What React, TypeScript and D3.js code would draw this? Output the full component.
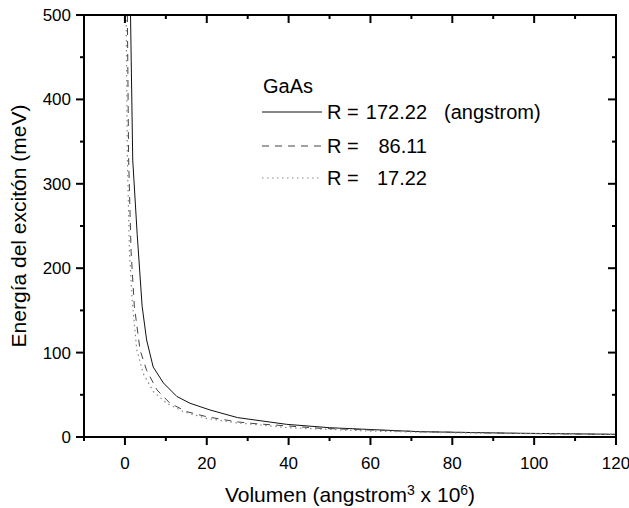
import React from "react";
import * as d3 from "d3";

const solidV = [1.37, 1.91, 3.0, 4.2, 5.3, 6.9, 9.4, 12.7, 15.9, 20.8, 27.5, 39.5, 50, 72, 95, 120];
const solidE = [500, 328, 240, 155, 115, 83, 64, 48, 40, 32, 23, 15, 11, 6.3, 4.5, 3.2];
const dashedV = [0.6, 0.9, 1.5, 2.3, 3.7, 5.3, 7.8, 11, 15.1, 20, 27.3, 31.3, 47.7, 72, 95, 120];
const dashedE = [500, 330, 220, 155, 103, 79, 56, 40, 30, 24, 18, 16, 10.3, 6.3, 4.3, 3.0];
const dottedV = [0.3, 0.6, 1.1, 1.8, 2.9, 4.5, 6.9, 10.2, 14.3, 20, 27, 40, 60, 80, 100, 120];
const dottedE = [500, 330, 220, 160, 103, 75, 54, 40, 30, 22, 17, 11, 7, 5, 4, 3];

const xMajor = [0, 20, 40, 60, 80, 100, 120];
const xMinor = [-10, 10, 30, 50, 70, 90, 110];
const yMajor = [0, 100, 200, 300, 400, 500];
const yMinor = [50, 150, 250, 350, 450];

const legendTitle = "GaAs";
const legendNames = ["R =", "R =", "R ="];
const legendValues = ["172.22", "86.11", "17.22"];

const W = 629, H = 508;
const L = 84, R = 616, T = 15, B = 437;
const FONT = "'Liberation Sans', Arial, sans-serif";

export default function App() {
  const x = d3.scaleLinear().domain([-10, 120]).range([L, R]);
  const y = d3.scaleLinear().domain([0, 500]).range([B, T]);
  const line = d3.line<[number, number]>().x(d => x(d[0])).y(d => y(d[1]));
  const series = [
    { v: solidV, e: solidE, stroke: "#111", dash: undefined as string | undefined, w: 1 },
    { v: dashedV, e: dashedE, stroke: "#444", dash: "7,6", w: 1 },
    { v: dottedV, e: dottedE, stroke: "#888", dash: "1.5,3.5", w: 1.2 },
  ];
  const legendY = [112, 146, 178];
  const ax = "#000";
  return (
    <svg width={W} height={H} style={{ position: "absolute", left: 0, top: 0, background: "#fff" }} fontFamily={FONT}>
      <defs>
        <clipPath id="plot"><rect x={L} y={T} width={R - L} height={B - T} /></clipPath>
      </defs>
      <rect x={0} y={0} width={W} height={H} fill="#fff" />
      <g clipPath="url(#plot)">
        {series.map((s, i) => (
          <path key={i} d={line(s.v.map((v, j) => [v, s.e[j]] as [number, number])) || ""}
            fill="none" stroke={s.stroke} strokeWidth={s.w} strokeDasharray={s.dash} />
        ))}
      </g>
      <rect x={L} y={T} width={R - L} height={B - T} fill="none" stroke={ax} strokeWidth={2} />
      {xMajor.map(v => (
        <g key={"xm" + v}>
          <line x1={x(v)} x2={x(v)} y1={B} y2={B + 8} stroke={ax} strokeWidth={2} />
          <line x1={x(v)} x2={x(v)} y1={T} y2={T + 8} stroke={ax} strokeWidth={2} />
          <text x={x(v)} y={469} fontSize={17} textAnchor="middle" fill="#000">{v}</text>
        </g>
      ))}
      {xMinor.map(v => (
        <g key={"xn" + v}>
          <line x1={x(v)} x2={x(v)} y1={B} y2={B + 4} stroke={ax} strokeWidth={2} />
          <line x1={x(v)} x2={x(v)} y1={T} y2={T + 4} stroke={ax} strokeWidth={2} />
        </g>
      ))}
      {yMajor.map(v => (
        <g key={"ym" + v}>
          <line x1={L - 8} x2={L} y1={y(v)} y2={y(v)} stroke={ax} strokeWidth={2} />
          <line x1={R - 8} x2={R} y1={y(v)} y2={y(v)} stroke={ax} strokeWidth={2} />
          <text x={L - 13} y={y(v) + 6} fontSize={17} textAnchor="end" fill="#000">{v}</text>
        </g>
      ))}
      {yMinor.map(v => (
        <g key={"yn" + v}>
          <line x1={L - 4} x2={L} y1={y(v)} y2={y(v)} stroke={ax} strokeWidth={2} />
          <line x1={R - 4} x2={R} y1={y(v)} y2={y(v)} stroke={ax} strokeWidth={2} />
        </g>
      ))}
      <text x={(L + R) / 2} y={502} fontSize={21} textAnchor="middle" fill="#000">
        Volumen (angstrom<tspan fontSize={14} dy={-7}>3</tspan><tspan dy={7}> x 10</tspan><tspan fontSize={14} dy={-7}>6</tspan><tspan dy={7}>)</tspan>
      </text>
      <text transform={`translate(26,${(T + B) / 2}) rotate(-90)`} fontSize={21} textAnchor="middle" fill="#000">
        Energía del excitón (meV)
      </text>
      <text x={263} y={93} fontSize={20} fill="#000">{legendTitle}</text>
      {series.map((s, i) => {
        const ly = legendY[i];
        return (
          <g key={"lg" + i}>
            <line x1={262} x2={322} y1={ly} y2={ly} stroke={s.stroke} strokeWidth={s.w} strokeDasharray={s.dash} />
            <text x={327} y={ly + 7} fontSize={20} fill="#000">{legendNames[i]}</text>
            <text x={427} y={ly + 7} fontSize={20} textAnchor="end" fill="#000">{legendValues[i]}</text>
            {i === 0 && <text x={444} y={ly + 7} fontSize={20} fill="#000">(angstrom)</text>}
          </g>
        );
      })}
    </svg>
  );
}
